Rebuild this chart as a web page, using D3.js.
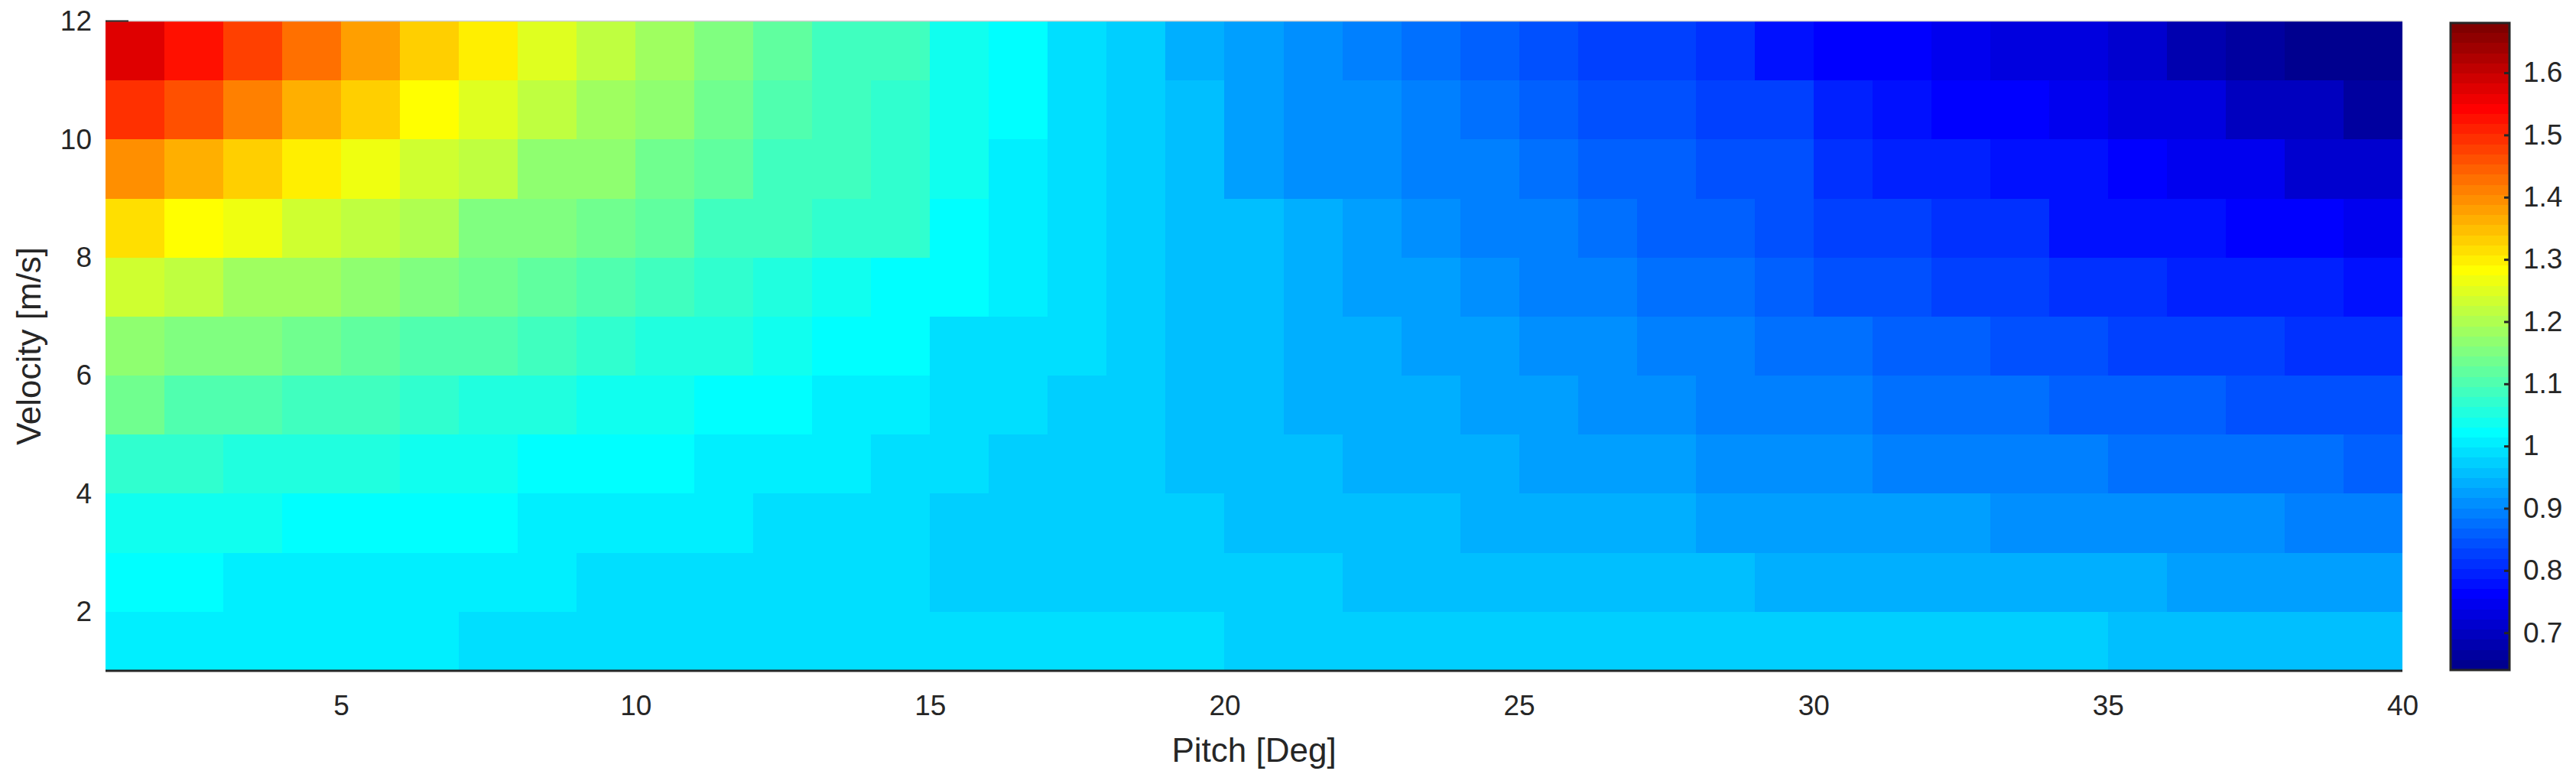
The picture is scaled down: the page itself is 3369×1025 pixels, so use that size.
<!DOCTYPE html>
<html>
<head>
<meta charset="utf-8">
<script src="https://cdn.jsdelivr.net/npm/d3@7"></script>
<style>
  body { margin: 0; background: #fff; }
  text { font-family: "Liberation Sans", Arial, Helvetica, sans-serif; fill: #262626; }
</style>
</head>
<body>
<svg id="chart" width="3369" height="1025"></svg>
<script>
// lower edge of each cell
const pitch = [1,2,3,4,5,6,7,8,9,10,11,12,13,14,15,16,17,18,19,20,
               21,22,23,24,25,26,27,28,29,30,31,32,33,34,35,36,37,38,39];
const velocity = [11,10,9,8,7,6,5,4,3,2,1];

const v11 = [1.57,1.53,1.48,1.43,1.38,1.33,1.30,1.25,1.22,1.18,1.15,1.12,1.09,
             1.09,1.04,1.02,0.99,0.97,0.94,0.92,0.91,0.89,0.88,0.86,0.84,0.83,
             0.83,0.81,0.78,0.76,0.76,0.75,0.73,0.73,0.71,0.68,0.66,0.65,0.65];
const v10 = [1.49,1.46,1.41,1.36,1.33,1.28,1.25,1.22,1.18,1.17,1.14,1.10,1.09,
             1.07,1.04,1.02,0.99,0.97,0.96,0.92,0.91,0.91,0.89,0.88,0.86,0.84,
             0.84,0.83,0.83,0.79,0.78,0.76,0.76,0.75,0.73,0.73,0.70,0.70,0.66];
const v9  = [1.40,1.36,1.33,1.30,1.27,1.23,1.22,1.17,1.17,1.14,1.12,1.09,1.09,
             1.07,1.04,1.01,0.99,0.97,0.96,0.92,0.91,0.91,0.89,0.89,0.88,0.86,
             0.86,0.84,0.84,0.81,0.79,0.79,0.78,0.78,0.76,0.75,0.75,0.71,0.71];
const v8  = [1.31,1.28,1.27,1.23,1.22,1.20,1.15,1.15,1.14,1.12,1.09,1.09,1.07,
             1.07,1.02,1.01,0.99,0.97,0.96,0.96,0.94,0.92,0.91,0.89,0.89,0.88,
             0.86,0.86,0.84,0.83,0.83,0.81,0.81,0.78,0.78,0.78,0.76,0.76,0.75];
const v7  = [1.23,1.22,1.18,1.18,1.17,1.15,1.14,1.12,1.10,1.09,1.07,1.05,1.04,
             1.02,1.02,1.01,0.99,0.97,0.96,0.96,0.94,0.92,0.92,0.91,0.89,0.89,
             0.88,0.88,0.86,0.84,0.84,0.83,0.83,0.81,0.81,0.79,0.79,0.79,0.78];
const v6  = [1.17,1.15,1.15,1.14,1.12,1.10,1.10,1.09,1.07,1.05,1.05,1.04,1.02,
             1.02,0.99,0.99,0.99,0.97,0.96,0.96,0.94,0.94,0.92,0.92,0.91,0.91,
             0.89,0.89,0.88,0.88,0.86,0.86,0.84,0.84,0.83,0.83,0.83,0.81,0.81];
const v5  = [1.14,1.10,1.10,1.09,1.09,1.07,1.05,1.05,1.04,1.04,1.02,1.02,1.01,
             1.01,0.99,0.99,0.97,0.97,0.96,0.96,0.94,0.94,0.94,0.92,0.92,0.91,
             0.91,0.89,0.89,0.89,0.88,0.88,0.88,0.86,0.86,0.86,0.84,0.84,0.84];
const v4  = [1.07,1.07,1.05,1.05,1.05,1.04,1.04,1.02,1.02,1.02,1.01,1.01,1.01,
             0.99,0.99,0.97,0.97,0.97,0.96,0.96,0.96,0.94,0.94,0.94,0.92,0.92,
             0.92,0.91,0.91,0.91,0.89,0.89,0.89,0.89,0.88,0.88,0.88,0.88,0.86];
const v3  = [1.04,1.04,1.04,1.02,1.02,1.02,1.02,1.01,1.01,1.01,1.01,0.99,0.99,
             0.99,0.97,0.97,0.97,0.97,0.97,0.96,0.96,0.96,0.96,0.94,0.94,0.94,
             0.94,0.92,0.92,0.92,0.92,0.92,0.91,0.91,0.91,0.91,0.91,0.89,0.89];
const v2  = [1.02,1.02,1.01,1.01,1.01,1.01,1.01,1.01,0.99,0.99,0.99,0.99,0.99,
             0.99,0.97,0.97,0.97,0.97,0.97,0.97,0.97,0.96,0.96,0.96,0.96,0.96,
             0.96,0.96,0.94,0.94,0.94,0.94,0.94,0.94,0.94,0.92,0.92,0.92,0.92];
const v1  = [1.01,1.01,1.01,1.01,1.01,1.01,0.99,0.99,0.99,0.99,0.99,0.99,0.99,
             0.99,0.99,0.99,0.99,0.99,0.99,0.97,0.97,0.97,0.97,0.97,0.97,0.97,
             0.97,0.97,0.97,0.97,0.97,0.97,0.97,0.97,0.96,0.96,0.96,0.96,0.96];
const rows = [v11, v10, v9, v8, v7, v6, v5, v4, v3, v2, v1];

const colorLimits = [0.64, 1.68];
const xTicks = [5, 10, 15, 20, 25, 30, 35, 40];
const yTicks = [2, 4, 6, 8, 10, 12];
const cTicks = [0.7, 0.8, 0.9, 1, 1.1, 1.2, 1.3, 1.4, 1.5, 1.6];

// MATLAB jet, 64 steps
function jet(k) {
  const r = k < 24 ? 0 : k < 40 ? (k - 23) / 16 : k < 55 ? 1 : (71 - k) / 16;
  const g = k < 8 ? 0 : k < 24 ? (k - 7) / 16 : k < 39 ? 1 : k < 55 ? (55 - k) / 16 : 0;
  const b = k < 8 ? (k + 9) / 16 : k < 23 ? 1 : k < 39 ? (39 - k) / 16 : 0;
  return d3.rgb(r * 255, g * 255, b * 255).formatHex();
}

const plot = {left: 138, top: 28, right: 3142, bottom: 877};
const bar = {left: 3205, top: 30, right: 3282, bottom: 876};
const tickFont = 37;
const labelFont = 44;

const xScale = d3.scaleLinear().domain([1, 40]).range([plot.left, plot.right]);
const yScale = d3.scaleLinear().domain([1, 12]).range([plot.bottom, plot.top]);
const cScale = d3.scaleQuantize().domain(colorLimits).range(d3.range(64).map(jet));
const barScale = d3.scaleLinear().domain(colorLimits).range([bar.bottom, bar.top]);

const svg = d3.select("svg#chart");

// tick marks sit under the image in the original, so only labels are kept
const xAxis = d3.axisBottom(xScale).tickValues(xTicks).tickSize(0).tickPadding(32);
const yAxis = d3.axisLeft(yScale).tickValues(yTicks).tickSize(0).tickPadding(18);

const xG = svg.append("g")
  .attr("transform", "translate(0," + plot.bottom + ")")
  .call(xAxis);
const yG = svg.append("g")
  .attr("transform", "translate(" + plot.left + ",0)")
  .call(yAxis);

[xG, yG].forEach(g => {
  g.selectAll("text").style("font-size", tickFont + "px").attr("fill", "#262626");
  g.selectAll("line").remove();
  g.select(".domain").remove();
});

const cells = [];
rows.forEach((vals, i) => vals.forEach((v, j) => cells.push({p: pitch[j], vel: velocity[i], value: v})));

svg.append("g")
  .selectAll("rect.cell")
  .data(cells)
  .enter()
  .append("rect")
  .attr("class", "cell")
  .attr("x", d => xScale(d.p))
  .attr("y", d => yScale(d.vel + 1))
  .attr("width", d => xScale(d.p + 1) - xScale(d.p))
  .attr("height", d => yScale(d.vel) - yScale(d.vel + 1))
  .attr("fill", d => cScale(d.value))
  .attr("shape-rendering", "crispEdges");

// box: dark bottom edge, faint top edge, tick at 12 peeking out
svg.append("line")
  .attr("x1", plot.left).attr("x2", plot.right)
  .attr("y1", plot.bottom).attr("y2", plot.bottom)
  .attr("stroke", "#262626").attr("stroke-width", 3);
svg.append("line")
  .attr("x1", plot.left).attr("x2", plot.right)
  .attr("y1", plot.top - 0.5).attr("y2", plot.top - 0.5)
  .attr("stroke", "#d0d0d0").attr("stroke-width", 1.5);
svg.append("line")
  .attr("x1", plot.left).attr("x2", plot.left + 30)
  .attr("y1", plot.top - 0.5).attr("y2", plot.top - 0.5)
  .attr("stroke", "#262626").attr("stroke-width", 2);

// colorbar
const bands = cScale.range().map(c => ({color: c, ext: cScale.invertExtent(c)}));
svg.append("g")
  .selectAll("rect.band")
  .data(bands)
  .enter()
  .append("rect")
  .attr("class", "band")
  .attr("x", bar.left)
  .attr("width", bar.right - bar.left)
  .attr("y", d => barScale(d.ext[1]))
  .attr("height", d => barScale(d.ext[0]) - barScale(d.ext[1]))
  .attr("fill", d => d.color)
  .attr("shape-rendering", "crispEdges");

svg.append("rect")
  .attr("x", bar.left).attr("y", bar.top)
  .attr("width", bar.right - bar.left).attr("height", bar.bottom - bar.top)
  .attr("fill", "none").attr("stroke", "#262626").attr("stroke-width", 3);

const cAxis = d3.axisRight(barScale).tickValues(cTicks).tickFormat(d => String(d))
  .tickSizeInner(-7).tickSizeOuter(0).tickPadding(18);
const cG = svg.append("g")
  .attr("transform", "translate(" + bar.right + ",0)")
  .call(cAxis);
cG.select(".domain").remove();
cG.selectAll("text").style("font-size", tickFont + "px").attr("fill", "#262626");
cG.selectAll("line").attr("stroke", "#262626").attr("stroke-width", 3);

// axis labels
svg.append("text")
  .attr("x", (plot.left + plot.right) / 2)
  .attr("y", 996)
  .attr("text-anchor", "middle")
  .style("font-size", labelFont + "px")
  .text("Pitch [Deg]");

svg.append("text")
  .attr("transform", "translate(53," + (plot.top + plot.bottom) / 2 + ") rotate(-90)")
  .attr("text-anchor", "middle")
  .style("font-size", labelFont + "px")
  .text("Velocity [m/s]");
</script>
</body>
</html>
